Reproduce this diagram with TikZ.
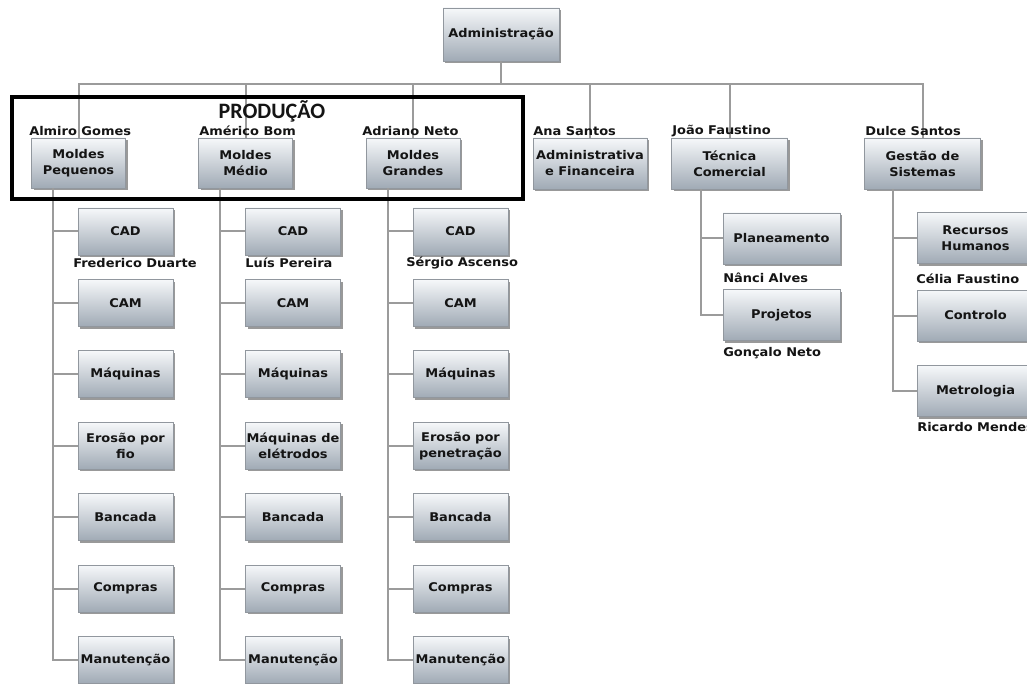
\documentclass[tikz,border=0pt]{standalone}
\usepackage{fontspec}
\setmainfont{DejaVu Sans}
\newfontfamily\lblfont[FakeStretch=1.08]{DejaVu Sans}
\newfontfamily\prodfont{Carlito Bold}
\usetikzlibrary{shadows}
\definecolor{boxtop}{RGB}{246,248,250}
\definecolor{boxbot}{RGB}{160,170,181}
\definecolor{boxline}{RGB}{145,151,158}
\definecolor{connc}{RGB}{155,155,155}
\definecolor{txt}{RGB}{20,20,20}
\begin{document}
\begin{tikzpicture}[x=0.75pt,y=-0.75pt,
  font=\lblfont\bfseries\fontsize{9}{12}\selectfont,
  box/.style={draw=boxline, line width=0.6pt, top color=boxtop, bottom color=boxbot,
    drop shadow={shadow xshift=1.6pt,shadow yshift=-1.6pt,opacity=0.4,fill=black},
    align=center, inner sep=0pt, text=txt},
  wbox/.style={box, minimum width=87pt, minimum height=38.25pt},
  mbox/.style={box, minimum width=70.5pt, minimum height=37.5pt},
  cbox/.style={box, minimum width=71.25pt, minimum height=35.25pt},
  rbox/.style={box, minimum width=87.75pt, minimum height=38.25pt},
  person/.style={anchor=west, inner sep=0pt, text=txt},
  conn/.style={draw=connc, line width=1.5pt}]
\fill[white] (0,0) rectangle (1027,684);
\useasboundingbox (0,0) rectangle (1027,684);

% top
\node[box, minimum width=87pt, minimum height=39.75pt] (adm) at (501,34.5) {Administração};
\node[mbox] (mp) at (78.5,163) {Moldes\\Pequenos};
\node[mbox] (mm) at (245.5,163) {Moldes\\Médio};
\node[mbox] (mg) at (413,163) {Moldes\\Grandes};
\node[box, minimum width=85.5pt, minimum height=38.25pt] (af) at (590,163.5) {Administrativa\\e Financeira};
\node[wbox] (tc) at (729.5,163.5) {Técnica\\Comercial};
\node[wbox] (gs) at (922.5,163.5) {Gestão de\\Sistemas};

\foreach \c in {mp,mm,mg,af,tc,gs}
  \draw[conn] (adm.south) -- ++(0,23) -| (\c.north);

% production columns
\foreach \t [count=\i] in {CAD,CAM,Máquinas,{Erosão por\\fio},Bancada,Compras,Manutenção}{
  \pgfmathsetmacro{\yy}{231.5+(\i-1)*71.4}
  \node[cbox] (p\i) at (125.5,\yy) {\t};
  \draw[conn] ([xshift=16.5pt]mp.south west) |- (p\i.west);
}
\foreach \t [count=\i] in {CAD,CAM,Máquinas,{Máquinas de\\elétrodos},Bancada,Compras,Manutenção}{
  \pgfmathsetmacro{\yy}{231.5+(\i-1)*71.4}
  \node[cbox] (m\i) at (293,\yy) {\t};
  \draw[conn] ([xshift=16.5pt]mm.south west) |- (m\i.west);
}
\foreach \t [count=\i] in {CAD,CAM,Máquinas,{Erosão por\\penetração},Bancada,Compras,Manutenção}{
  \pgfmathsetmacro{\yy}{231.5+(\i-1)*71.4}
  \node[cbox] (g\i) at (460.5,\yy) {\t};
  \draw[conn] ([xshift=16.5pt]mg.south west) |- (g\i.west);
}

% tecnica comercial
\node[rbox] (pl) at (781.5,238.5) {Planeamento};
\node[rbox] (pj) at (781.5,315) {Projetos};
\foreach \c in {pl,pj}
  \draw[conn] ([xshift=22.5pt]tc.south west) |- (\c.west);

% gestao de sistemas
\node[rbox] (rh) at (975.5,238) {Recursos\\Humanos};
\node[rbox] (ct) at (975.5,315.5) {Controlo};
\node[rbox] (mt) at (975.5,391) {Metrologia};
\foreach \c in {rh,ct,mt}
  \draw[conn] ([xshift=21.75pt]gs.south west) |- (\c.west);

% people
\node[person] (n1) at (29,131) {Almiro Gomes};
\node[person] (n2) at (199,131) {Américo Bom};
\node[person] (n3) at (362,131) {Adriano Neto};
\node[person] (n4) at (533,131) {Ana Santos};
\node[person] (n5) at (672,131) {João Faustino};
\node[person] (n6) at (865,131) {Dulce Santos};
\node[person] (n7) at (73,263) {Frederico Duarte};
\node[person] (n8) at (245,263) {Luís Pereira};
\node[person] (n9) at (406,263) {Sérgio Ascenso};
\node[person] (n10) at (723,278) {Nânci Alves};
\node[person] (n11) at (723,353) {Gonçalo Neto};
\node[person] (n12) at (916,279) {Célia Faustino};
\node[person] (n13) at (917,427) {Ricardo Mendes};

% production frame
\draw[line width=2.6pt] (12,97) rectangle (523,199);
\node[font=\prodfont\fontsize{16.5}{16.5}\selectfont, text=txt] (prod) at (272,111) {PRODUÇÃO};
\end{tikzpicture}
\end{document}
